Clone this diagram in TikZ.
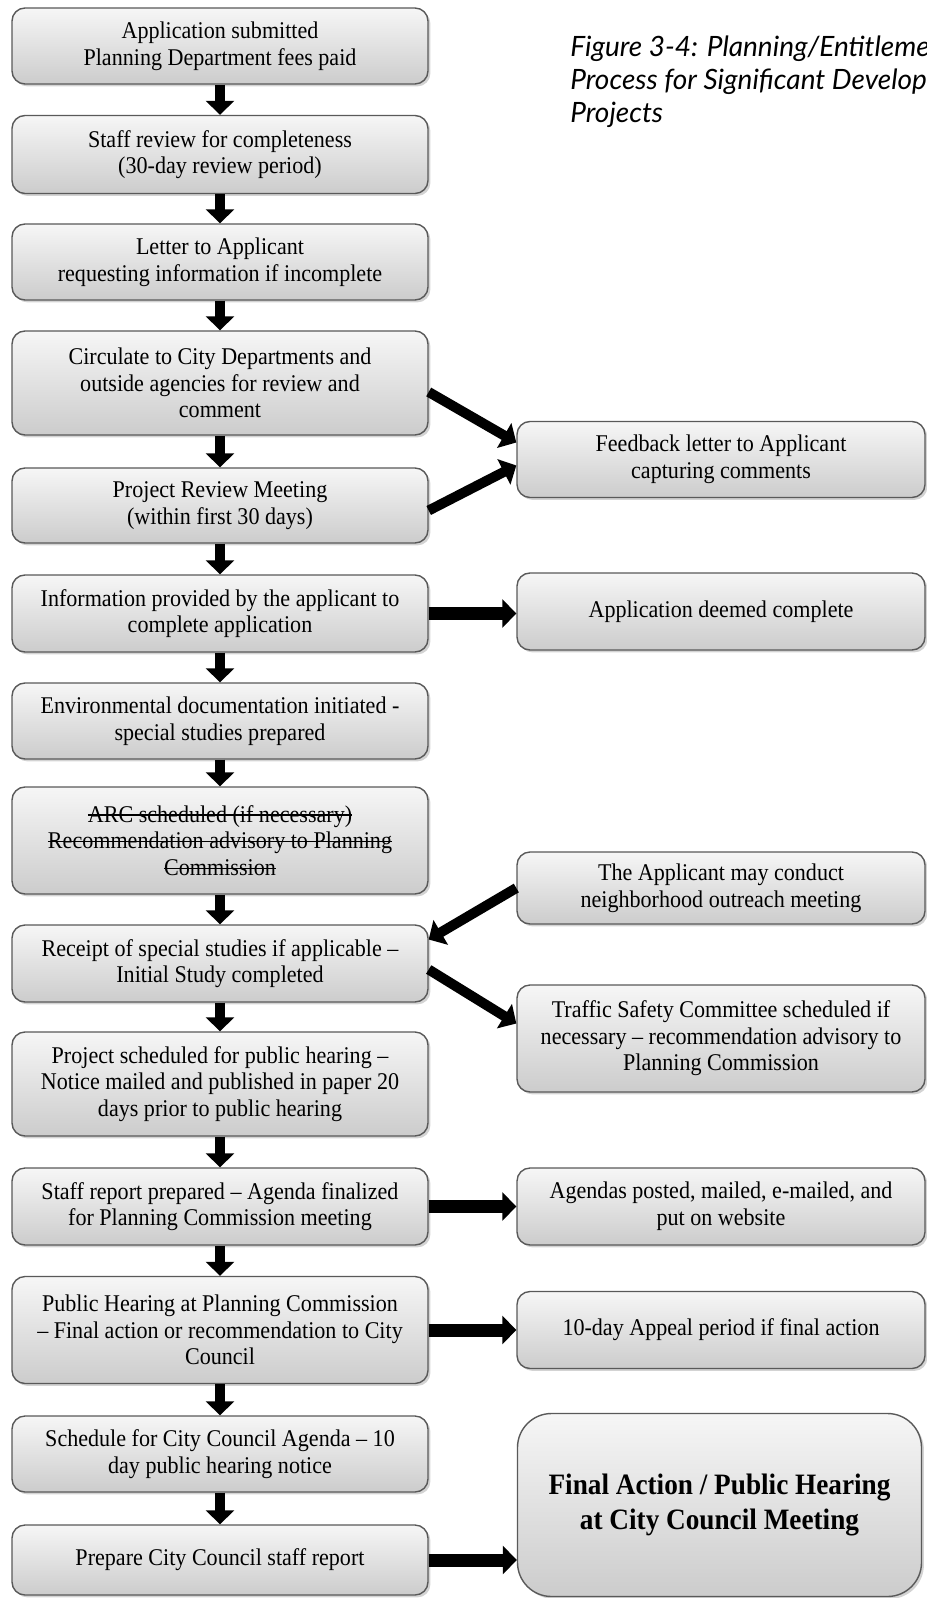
\documentclass[tikz,border=0pt]{standalone}
\usepackage{fontspec}
\setmainfont{Liberation Serif}[FakeStretch=0.92]
\newfontfamily\titelfont{Lato}
\usetikzlibrary{arrows.meta}
\usetikzlibrary{shadows}
\usetikzlibrary{calc}
\newsavebox\durchbox
\newcommand\durch[1]{\sbox\durchbox{#1}\rlap{\rule[0.28em]{\wd\durchbox}{0.6pt}}\usebox\durchbox}

\begin{document}
\begin{tikzpicture}[x=0.5pt,y=-0.5pt,>={Triangle[width=14pt,length=7pt]},
    kasten/.style={draw=black!65,line width=0.7pt,rounded corners=6.5pt,
      top color=gray!7,bottom color=gray!40,
      drop shadow={shadow xshift=1.2pt,shadow yshift=-1.2pt,opacity=.35},
      align=center,inner sep=2pt,font=\fontsize{12}{13.3}\selectfont},
    links/.style={kasten,minimum width=208pt},
    rechts/.style={kasten,minimum width=204pt},
    pfeil/.style={->,line width=5pt},
    querpfeil/.style={->,line width=6.5pt}]
      \useasboundingbox (0,0) rectangle (926,1598);

      % Titel (rechts abgeschnitten)
      \begin{scope}
        \clip (0,0) rectangle (926,1598);
        \node[anchor=base west,align=left,inner sep=0pt,
          font=\titelfont\itshape\fontsize{14}{16.7}\selectfont] (titel) at (570,123)
          {Figure 3-4: Planning/Entitlement\\Process for Significant Development\\Projects};
      \end{scope}

      % linke Spalte
      \foreach \nr/\y/\h/\inhalt in {
        1/46/76/{Application submitted\\Planning Department fees paid},
        2/154.5/78/{Staff review for completeness\\(30-day review period)},
        3/262/76/{Letter to Applicant\\requesting information if incomplete},
        4/383/104/{Circulate to City Departments and\\outside agencies for review and\\comment},
        5/505.5/75/{Project Review Meeting\\(within first 30 days)},
        6/613.5/77/{Information provided by the applicant to\\complete application},
        7/721/76/{Environmental documentation initiated -\\special studies prepared},
        8/840.5/107/{\durch{ARC scheduled (if necessary)}\\\durch{Recommendation advisory to Planning}\\\durch{Commission}},
        9/963.5/77/{Receipt of special studies if applicable --\\Initial Study completed},
        10/1084/104/{Project scheduled for public hearing --\\Notice mailed and published in paper 20\\days prior to public hearing},
        11/1206.5/77/{Staff report prepared -- Agenda finalized\\for Planning Commission meeting},
        12/1330/107/{Public Hearing at Planning Commission\\-- Final action or recommendation to City\\Council},
        13/1454/76/{Schedule for City Council Agenda -- 10\\day public hearing notice},
        14/1560/70/{Prepare City Council staff report}}
      \node[links,minimum height=\h*0.5pt] (L\nr) at (220,\y) {\inhalt};

      % rechte Spalte
      \foreach \nr/\y/\h/\inhalt in {
        1/459.5/76/{Feedback letter to Applicant\\capturing comments},
        2/611.5/77/{Application deemed complete},
        3/888/72/{The Applicant may conduct\\neighborhood outreach meeting},
        4/1038.5/107/{Traffic Safety Committee scheduled if\\necessary -- recommendation advisory to\\Planning Commission},
        5/1206.5/77/{Agendas posted, mailed, e-mailed, and\\put on website},
        6/1330/77/{10-day Appeal period if final action}}
      \node[rechts,minimum height=\h*0.5pt] (R\nr) at (721,\y) {\inhalt};

      \node[rechts,minimum width=202pt,minimum height=91.5pt,rounded corners=17pt,
        font=\bfseries\fontsize{14.8}{17.8}\selectfont] (R7) at (719.5,1505)
        {Final Action / Public Hearing\\at City Council Meeting};

      % Pfeile
      \foreach \a [evaluate=\a as \b using int(\a+1)] in {1,...,13}
        \draw[pfeil] (L\a) -- (L\b);

      \draw[pfeil] ($(L4.east)+(0,9)$) -- ($(R1.west)+(0,-17)$);
      \draw[pfeil] ($(L5.east)+(0,5)$) -- ($(R1.west)+(0,6)$);
      \draw[pfeil] (R3.west) -- ($(L9.east)+(0,-24)$);
      \draw[pfeil] ($(L9.east)+(0,6)$) -- ($(R4.west)+(0,-15)$);

      \foreach \a/\b in {6/2,11/5,12/6,14/7}
        \draw[querpfeil] (L\a.east) -- (L\a.east -| R\b.west);
\end{tikzpicture}
\end{document}
